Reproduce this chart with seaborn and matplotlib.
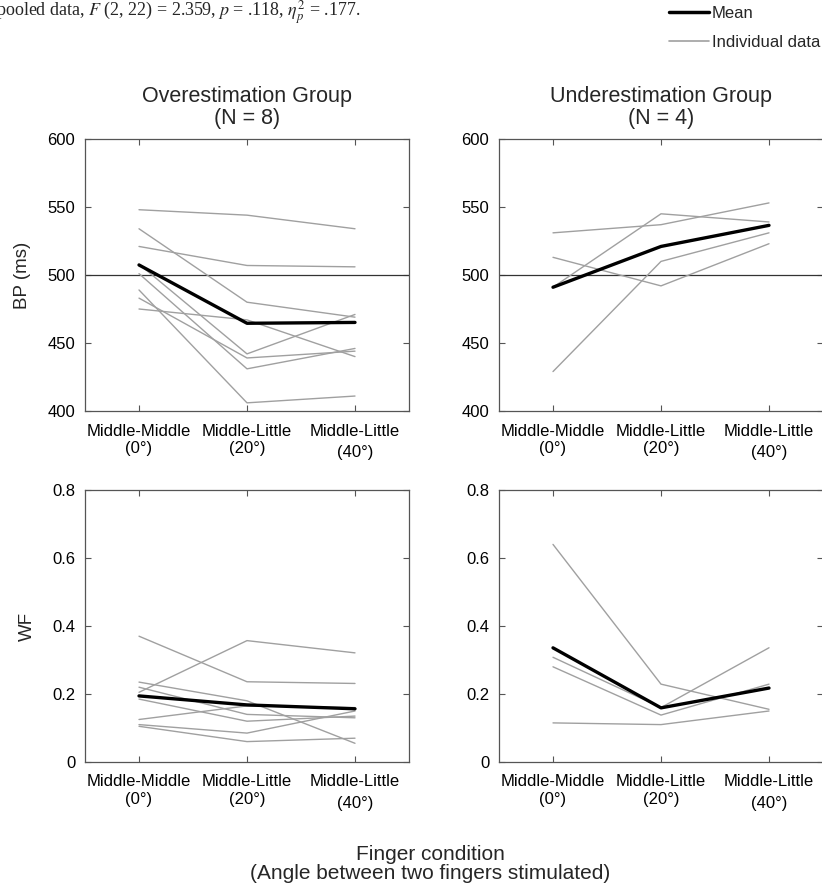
import pandas as pd
import matplotlib.pyplot as plt
import seaborn as sns
from matplotlib.lines import Line2D

conditions = ["MM0", "ML20", "ML40"]
tick_labels = ["Middle-Middle\n(0°)", "Middle-Little\n(20°)", "Middle-Little\n(40°)"]

# BP (ms), one row per participant, columns follow conditions
bp_over = [
    [548, 544, 534],
    [534, 480, 469],
    [521, 507, 506],
    [508, 442, 471],
    [501, 431, 446],
    [489, 406, 411],
    [483, 439, 444],
    [475, 467, 440],
]
bp_under = [
    [531, 537, 553],
    [513, 492, 523],
    [491, 545, 539],
    [429, 510, 531],
]

# WF
wf_over = [
    [0.370, 0.236, 0.231],
    [0.205, 0.357, 0.321],
    [0.235, 0.180, 0.055],
    [0.220, 0.140, 0.130],
    [0.185, 0.120, 0.135],
    [0.125, 0.165, 0.160],
    [0.110, 0.085, 0.150],
    [0.105, 0.060, 0.070],
]
wf_under = [
    [0.640, 0.229, 0.155],
    [0.308, 0.160, 0.336],
    [0.280, 0.138, 0.229],
    [0.115, 0.110, 0.150],
]


def to_long(rows):
    recs = []
    for s, row in enumerate(rows):
        for c, v in zip(conditions, row):
            recs.append({"subj": s, "cond": c, "value": v})
    return pd.DataFrame(recs)


sns.set_style("ticks")
plt.rcParams["font.family"] = ["Liberation Sans", "DejaVu Sans"]
plt.rcParams["mathtext.fontset"] = "stix"

W, H = 822, 886
fig = plt.figure(figsize=(W / 100, H / 100), dpi=100)


def px_axes(x0, y0, x1, y1):
    return fig.add_axes([x0 / W, 1 - y1 / H, (x1 - x0) / W, (y1 - y0) / H])


panels = [
    (px_axes(85, 139, 409, 411), bp_over, (400, 600), [400, 450, 500, 550, 600], "Overestimation Group\n(N = 8)", "BP (ms)"),
    (px_axes(499, 139, 823, 411), bp_under, (400, 600), [400, 450, 500, 550, 600], "Underestimation Group\n(N = 4)", None),
    (px_axes(85, 490, 409, 762), wf_over, (0, 0.8), [0, 0.2, 0.4, 0.6, 0.8], None, "WF"),
    (px_axes(499, 490, 823, 762), wf_under, (0, 0.8), [0, 0.2, 0.4, 0.6, 0.8], None, None),
]

for ax, rows, ylim, yticks, title, ylab in panels:
    df = to_long(rows)
    if ylim[1] == 600:
        ax.axhline(500, color="#333333", lw=0.9, zorder=1)
    sns.lineplot(data=df, x="cond", y="value", units="subj", estimator=None,
                 color="#a0a0a0", lw=1.0, ax=ax, zorder=2)
    sns.lineplot(data=df, x="cond", y="value", errorbar=None,
                 color="black", lw=2.4, ax=ax, zorder=3)
    ax.set_xlim(-0.5, 2.5)
    ax.set_ylim(*ylim)
    ax.set_yticks(yticks)
    ax.set_yticklabels([f"{t:g}" for t in yticks])
    ax.set_xticks([0, 1, 2])
    ax.set_xticklabels(tick_labels)
    ax.get_xticklabels()[2].set_linespacing(1.55)
    ax.tick_params(direction="in", top=True, right=True, length=4, width=0.8,
                   color="#555555", labelsize=12, labelcolor="black")
    ax.tick_params(axis="x", pad=9)
    ax.tick_params(axis="y", pad=7)
    for sp in ax.spines.values():
        sp.set_color("#555555")
        sp.set_linewidth(0.9)
    ax.set_xlabel("")
    ax.set_ylabel(ylab if ylab else "", fontsize=13.5, labelpad=12)
    if title:
        ax.set_title(title, fontsize=15.5, pad=11, linespacing=1.05)

fig.text(430 / W, 1 - 845 / H, "Finger condition\n(Angle between two fingers stimulated)",
         ha="center", va="top", fontsize=15, linespacing=1.0)

fig.text(-4 / W, 1 - 16 / H,
         r"pooled data, $F$ (2, 22) = 2.359, $p$ = .118, $\eta_p^2$ = .177.",
         ha="left", va="baseline", fontsize=13, family="Liberation Serif")

handles = [Line2D([], [], color="black", lw=2.5),
           Line2D([], [], color="#a0a0a0", lw=1.2)]
fig.legend(handles, ["Mean", "Individual data"], loc="upper right",
           bbox_to_anchor=(1.0, 1.0 - 4 / H), frameon=False, fontsize=12,
           handlelength=2.4, handletextpad=0.2, labelspacing=0.85,
           borderaxespad=0, borderpad=0.1)

fig.savefig("out.png", dpi=100)
